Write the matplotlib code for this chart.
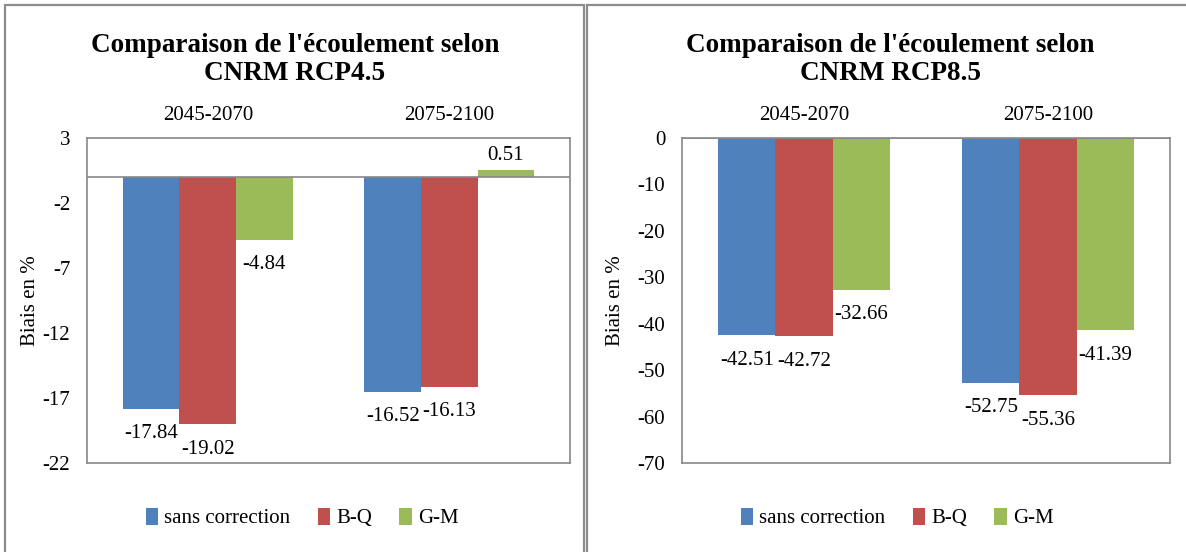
import matplotlib
matplotlib.use("Agg")
import matplotlib.pyplot as plt
from matplotlib.patches import Rectangle, Patch

plt.rcParams['font.family'] = ['Liberation Serif', 'DejaVu Serif']

# Data
periods = ["2045-2070", "2075-2100"]
series = ["sans correction", "B-Q", "G-M"]
rcp45_sans = [-17.84, -16.52]
rcp45_bq = [-19.02, -16.13]
rcp45_gm = [-4.84, 0.51]
rcp85_sans = [-42.51, -52.75]
rcp85_bq = [-42.72, -55.36]
rcp85_gm = [-32.66, -41.39]
rcp45_ticks = [3, -2, -7, -12, -17, -22]
rcp85_ticks = [0, -10, -20, -30, -40, -50, -60, -70]
titles = ["Comparaison de l'écoulement selon", "CNRM RCP4.5", "CNRM RCP8.5"]

colors = ["#4F81BD", "#C0504D", "#9BBB59"]
frame_gray = "#878787"
W, H = 1186, 552
FS = 15

fig = plt.figure(figsize=(W / 100, H / 100), dpi=100)


def px_rect(x0, y0, x1, y1):
    """Pixel box (top-left origin) -> figure fraction [l, b, w, h]."""
    return [x0 / W, (H - y1) / H, (x1 - x0) / W, (y1 - y0) / H]


# panel borders
for (x0, x1) in [(5, 584), (587, 1196)]:
    l, b, w, h = px_rect(x0, 5, x1, 570)
    fig.patches.append(Rectangle((l, b), w, h, transform=fig.transFigure,
                                 fill=False, edgecolor="#8c8c8c", lw=1.6,
                                 zorder=0))


def draw_panel(rect, data, yticks, ylim, subtitle, cx, ylab_x):
    ax = fig.add_axes(px_rect(*rect))
    x = list(range(len(periods)))
    bw = 0.234
    for i, (vals, col) in enumerate(zip(data, colors)):
        pos = [xi + (i - 1) * bw for xi in x]
        bars = ax.bar(pos, vals, width=bw, color=col, zorder=2)
        for b, v in zip(bars, vals):
            off = 11 if v >= 0 else -18
            ax.annotate(f"{v:.2f}", (b.get_x() + b.get_width() / 2, v),
                        xytext=(0, off), textcoords="offset points",
                        ha="center", va="center", fontsize=FS)
    ax.set_xlim(-0.5, 1.5)
    ax.set_ylim(*ylim)
    ax.set_yticks(yticks)
    ax.set_yticklabels([str(t) for t in yticks], fontsize=FS)
    ax.tick_params(axis="y", length=0, pad=12)
    ax.xaxis.tick_top()
    ax.set_xticks(x)
    ax.set_xticklabels(periods, fontsize=FS)
    ax.tick_params(axis="x", length=0, pad=9)
    ax.axhline(0, color=frame_gray, lw=1.2, zorder=3)
    for s in ax.spines.values():
        s.set_color(frame_gray)
        s.set_linewidth(1.2)
    ax.set_ylabel("Biais en %", fontsize=FS)
    ax.yaxis.set_label_coords(ylab_x, 0.5)

    fig.text(cx / W, 1 - 46 / H, titles[0], ha="center", va="center",
             fontsize=19.5, fontweight="bold")
    fig.text(cx / W, 1 - 74 / H, subtitle, ha="center", va="center",
             fontsize=19.5, fontweight="bold")

    handles = [Patch(facecolor=c, edgecolor="none") for c in colors]
    fig.legend(handles, series, loc="center",
               bbox_to_anchor=(cx / W + 0.006, 1 - 518 / H),
               ncol=3, frameon=False, fontsize=FS, handlelength=0.6,
               handleheight=0.9, handletextpad=0.3, columnspacing=1.3)
    return ax


draw_panel((87, 138, 570, 463), [rcp45_sans, rcp45_bq, rcp45_gm],
           rcp45_ticks, (-22, 3), titles[1], 295, -0.097)
draw_panel((682, 138, 1170, 463), [rcp85_sans, rcp85_bq, rcp85_gm],
           rcp85_ticks, (-70, 0), titles[2], 890, -0.117)

fig.savefig("out.png", dpi=100)
